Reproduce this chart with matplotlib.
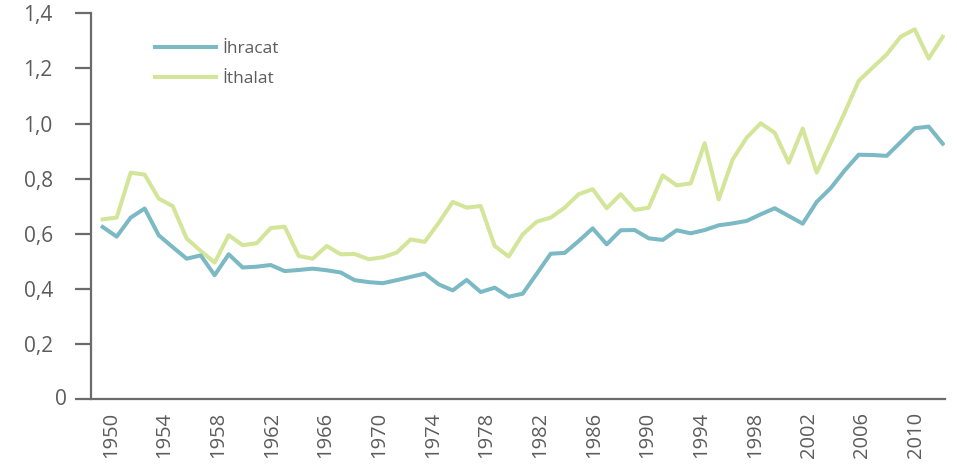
import matplotlib
matplotlib.use("Agg")
import matplotlib.pyplot as plt
import numpy as np

plt.rcParams["font.family"] = ["Open Sans", "DejaVu Sans"]

# Yearly series (share, %)
years = list(range(1950, 2011))
ihracat = [0.625, 0.590, 0.659, 0.692, 0.595, 0.552, 0.510, 0.522, 0.450, 0.526,
           0.478, 0.481, 0.487, 0.465, 0.469, 0.474, 0.468, 0.460, 0.432, 0.425,
           0.421, 0.432, 0.444, 0.456, 0.417, 0.395, 0.433, 0.389, 0.405, 0.372,
           0.383, 0.455, 0.528, 0.531, 0.574, 0.620, 0.562, 0.613, 0.614, 0.584,
           0.578, 0.613, 0.602, 0.614, 0.631, 0.638, 0.647, 0.671, 0.693, 0.665,
           0.637, 0.716, 0.766, 0.830, 0.887, 0.886, 0.883, 0.933, 0.983, 0.989,
           0.927]
ithalat = [0.653, 0.659, 0.822, 0.815, 0.728, 0.701, 0.583, 0.538, 0.496, 0.595,
           0.559, 0.566, 0.621, 0.626, 0.520, 0.510, 0.556, 0.526, 0.527, 0.508,
           0.515, 0.532, 0.580, 0.571, 0.640, 0.716, 0.695, 0.701, 0.556, 0.518,
           0.598, 0.644, 0.659, 0.695, 0.744, 0.762, 0.693, 0.744, 0.687, 0.695,
           0.812, 0.776, 0.783, 0.929, 0.725, 0.870, 0.949, 1.001, 0.967, 0.858,
           0.982, 0.822, 0.930, 1.040, 1.155, 1.203, 1.251, 1.315, 1.342, 1.236,
           1.315]
series_names = ["İhracat", "İthalat"]
year_labels = list(range(1950, 2011, 4))
y_ticks = [0.0, 0.2, 0.4, 0.6, 0.8, 1.0, 1.2, 1.4]

W, H = 957, 465
fig = plt.figure(figsize=(W / 100, H / 100), dpi=100)
left, right, top, bottom = 91, 945, 13.3, 399.3
ax = fig.add_axes([left / W, 1 - bottom / H, (right - left) / W, (bottom - top) / H])

axis_col = "#6b6b6b"
text_col = "#5c5c5c"
teal = "#7bb9c5"
green = "#d3e598"

ax.plot(years, ihracat, color=teal, lw=2.9, solid_joinstyle="round",
        label=series_names[0], zorder=3)
ax.plot(years, ithalat, color=green, lw=2.9, solid_joinstyle="round",
        label=series_names[1], zorder=2)

ax.set_xlim(1949.166, 2010.164)
ax.set_ylim(0, 1.4)

for s in ["top", "right"]:
    ax.spines[s].set_visible(False)
for s in ["left", "bottom"]:
    ax.spines[s].set_color(axis_col)
    ax.spines[s].set_linewidth(1.6)
ax.set_xticks([])

ax.set_yticks(y_ticks)
ax.set_yticklabels(["" if v == 0 else f"{v:.1f}".replace(".", ",") for v in y_ticks])
ax.tick_params(axis="y", direction="out", length=11.5, width=1.6, color=axis_col,
               pad=16, labelsize=15, labelcolor=text_col)
ax.annotate("0", xy=(0, 0), xycoords=("axes fraction", "data"),
            xytext=(-17.5, 0), textcoords="offset points",
            ha="right", va="center", fontsize=15, color=text_col)

# Year labels on their own scale along the bottom
ax2 = ax.twiny()
ax2.set_xlim(1948.51, 2012.17)
ax2.xaxis.set_ticks_position("bottom")
ax2.xaxis.set_label_position("bottom")
ax2.set_xticks(year_labels)
ax2.set_xticklabels([str(y) for y in year_labels], rotation=90)
ax2.tick_params(axis="x", length=0, pad=9, labelsize=14.5, labelcolor=text_col)
for s in ax2.spines.values():
    s.set_visible(False)

leg = ax.legend(loc="center left", bbox_to_anchor=(155 / W, 1 - 63.8 / H),
                bbox_transform=fig.transFigure, frameon=False, fontsize=12.5,
                handlelength=3.5, handletextpad=0.4, labelspacing=0.78,
                borderpad=0, borderaxespad=0)
for t in leg.get_texts():
    t.set_color(text_col)

fig.savefig("out.png", dpi=100)
